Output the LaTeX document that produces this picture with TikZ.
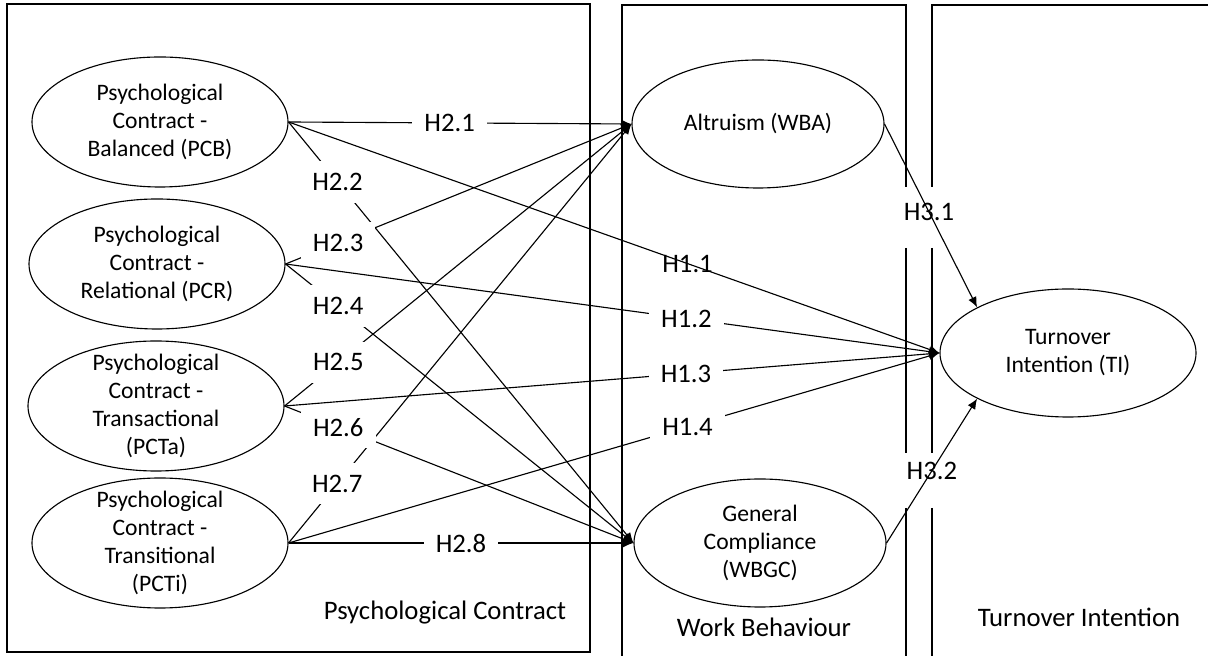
\documentclass[tikz,border=0pt]{standalone}
\usepackage{fontspec}
\setmainfont{Carlito}
\usetikzlibrary{arrows.meta,shapes.geometric}

\begin{document}
\begin{tikzpicture}[line width=0.8pt,
  every node/.style={font=\fontsize{16.8pt}{19.9pt}\selectfont},
  construct/.style={draw,ellipse,minimum width=6.4cm,minimum height=3.25cm,inner sep=0pt},
  hyp/.style={font=\fontsize{19pt}{23pt}\selectfont,fill=white,inner xsep=0.3cm,inner ysep=0.3cm},
  hypplain/.style={font=\fontsize{19pt}{23pt}\selectfont,inner sep=0pt},
  section/.style={font=\fontsize{19pt}{23pt}\selectfont},
  link/.style={-{Latex[length=2.6mm,width=2.2mm]}}]
\useasboundingbox (0,0) rectangle (30.2,16.4);
% section frames
\draw (0.175,0.1) rectangle (14.75,16.3);
\draw (15.55,0) -- (15.55,16.275) -- (22.65,16.275) -- (22.65,11.725);
\draw (22.65,10.2) -- (22.65,5.075);
\draw (22.65,3.7) -- (22.65,0);
\draw (23.3,11.725) -- (23.3,16.275) -- (30.2,16.275);
\draw (23.3,10.2) -- (23.3,5.075);
\draw (23.3,3.7) -- (23.3,0);
\node[section] (secPC) at (11.125,1.075) {Psychological Contract};
\node[section] (secWB) at (19.1,0.725) {Work Behaviour};
\node[section] (secTI) at (26.975,0.975) {Turnover Intention};
% constructs
\node[construct] (PCB) at (4.0,13.35) {};
\node[align=center] (PCB-txt) at (PCB) {Psychological\\Contract -\\Balanced (PCB)};
\node[construct] (PCR) at (3.925,9.8) {};
\node[align=center] (PCR-txt) at (PCR) {Psychological\\Contract -\\Relational (PCR)};
\node[construct] (PCTa) at (3.9,6.25) {};
\node[align=center] (PCTa-txt) at (PCTa) {Psychological\\Contract -\\Transactional\\(PCTa)};
\node[construct] (PCTi) at (4.0,2.825) {};
\node[align=center] (PCTi-txt) at (PCTi) {Psychological\\Contract -\\Transitional\\(PCTi)};
\node[construct,minimum width=6.3cm,minimum height=3.2cm] (WBA) at (18.95,13.3) {};
\node (WBA-txt) at (WBA) {Altruism (WBA)};
\node[construct,minimum width=6.3cm,minimum height=3.2cm] (WBGC) at (19.0,2.825) {};
\node[align=center] (WBGC-txt) at (WBGC) {General\\Compliance\\(WBGC)};
\node[construct,minimum height=3.2cm] (TI) at (26.7,7.575) {};
\node[align=center] (TI-txt) at (TI) {Turnover\\Intention (TI)};
% paths
\foreach \src in {PCB,PCR,PCTa,PCTi}{
  \draw[link] (\src.east) -- (WBA.west);
  \draw[link] (\src.east) -- (WBGC.west);
  \draw[link] (\src.east) -- (TI.west);
}
\draw[link] (WBA.east) -- (TI.north west);
\draw[link] (WBGC.east) -- (TI.south west);
% hypotheses
\path (PCB.east) -- (WBA.west) node[hyp,pos=0.47] (h21) {H2.1};
\path (PCB.east) -- (WBGC.west) node[hyp,pos=0.142] (h22) {H2.2};
\path (PCR.east) -- (WBA.west) node[hyp,pos=0.152] (h23) {H2.3};
\path (PCR.east) -- (WBGC.west) node[hyp,pos=0.151] (h24) {H2.4};
\path (PCTa.east) -- (WBA.west) node[hyp,pos=0.155] (h25) {H2.5};
\path (PCTa.east) -- (WBGC.west) node[hyp,pos=0.154] (h26) {H2.6};
\path (PCTi.east) -- (WBA.west) node[hyp,pos=0.142] (h27) {H2.7};
\path (PCTi.east) -- (WBGC.west) node[hyp,pos=0.5] (h28) {H2.8};
\path (PCB.east) -- (TI.west) node[hypplain,pos=0.613] (h11) {H1.1};
\path (PCR.east) -- (TI.west) node[hyp,pos=0.613] (h12) {H1.2};
\path (PCTa.east) -- (TI.west) node[hyp,pos=0.613] (h13) {H1.3};
\path (PCTi.east) -- (TI.west) node[hyp,pos=0.613] (h14) {H1.4};
\path (WBA.east) -- (TI.north west) node[hypplain,pos=0.48] (h31) {H3.1};
\path (WBGC.east) -- (TI.south west) node[hypplain,pos=0.5] (h32) {H3.2};
\end{tikzpicture}
\end{document}
